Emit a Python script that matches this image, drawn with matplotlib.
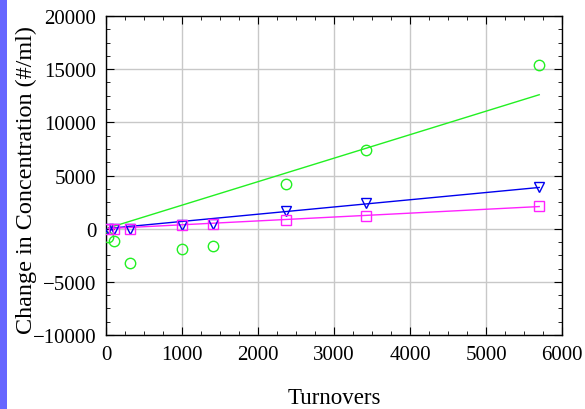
import numpy as np
import matplotlib.pyplot as plt
from matplotlib.ticker import MultipleLocator
from matplotlib.patches import Rectangle

# turnovers at each sampling point
turnovers = [30, 100, 320, 1000, 1410, 2370, 3420, 5700]

# change in concentration (#/ml) for the three size classes
conc_green = [-780, -1160, -3200, -1880, -1660, 4170, 7430, 15360]
conc_blue = [0, 0, -50, 380, 470, 1630, 2420, 3920]
conc_magenta = [0, 0, -30, 300, 400, 850, 1190, 2100]

# linear fits (slope, intercept)
fit_green = (2.21, 0.0)
fit_blue = (0.68, 0.0)
fit_magenta = (0.365, 0.0)

plt.rcParams["font.family"] = ["Liberation Serif", "DejaVu Serif"]

fig = plt.figure(figsize=(5.85, 4.1), dpi=100)
ax = fig.add_axes([0.1812, 0.1805, 0.7795, 0.778])

# blue strip along the left edge
fig.patches.append(Rectangle((0, 0), 7 / 585, 1, transform=fig.transFigure,
                             facecolor="#6666ff", edgecolor="none"))

x = np.array(turnovers, dtype=float)
xfit = np.array([x.min(), x.max()])

series = [
    (conc_green, fit_green, "#22f022", "o"),
    (conc_blue, fit_blue, "#0000ee", "v"),
    (conc_magenta, fit_magenta, "#ff22ff", "s"),
]
for vals, (m, b), col, mk in series:
    ax.plot(xfit, m * xfit + b, color=col, lw=1.0, zorder=3)
    ax.plot(x, vals, linestyle="none", marker=mk, ms=7.5 if mk != "s" else 7,
            mfc="none", mec=col, mew=1.0, zorder=4)

ax.set_xlim(0, 6000)
ax.set_ylim(-10000, 20000)
ax.xaxis.set_major_locator(MultipleLocator(1000))
ax.xaxis.set_minor_locator(MultipleLocator(250))
ax.yaxis.set_major_locator(MultipleLocator(5000))
ax.yaxis.set_minor_locator(MultipleLocator(1250))
ax.grid(True, which="major", color="#c8c8c8", lw=1.0)
ax.set_axisbelow(True)

ax.tick_params(which="both", direction="in", top=True, right=True,
               labelsize=15, pad=7)
ax.tick_params(which="major", length=6)
ax.tick_params(which="minor", length=3)
for s in ax.spines.values():
    s.set_linewidth(1.0)

ax.set_xlabel("Turnovers", fontsize=16.5, labelpad=17)
ax.set_ylabel("Change in Concentration (#/ml)", fontsize=17.4)
ax.yaxis.set_label_coords(-0.152, 0.49)

fig.savefig("out.png", dpi=100)
